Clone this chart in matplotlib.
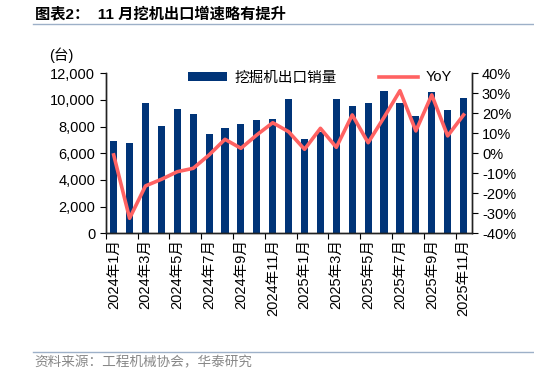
import numpy as np
import matplotlib.pyplot as plt
from matplotlib.lines import Line2D
from matplotlib.patches import Patch

plt.rcParams['font.family'] = ['Liberation Sans', 'Noto Sans CJK SC']

months = [f"{y}年{m}月" for y in (2024, 2025) for m in range(1, 13)][:23]

# excavator exports (units)
exports = [6925, 6750, 9775, 8025, 9300, 8950, 7450, 7925, 8200, 8500, 8575, 10050,
           7075, 7625, 10050, 9575, 9800, 10650, 9800, 8825, 10600, 9250, 10175]
# year-on-year growth (%)
yoy = [-0.8, -32.5, -16.3, -13.0, -9.2, -7.5, -0.8, 7.0, 2.5, 9.2, 15.3, 10.8,
       2.0, 12.5, 3.0, 19.2, 5.3, 18.0, 31.3, 11.2, 29.2, 8.7, 19.2]

bar_color = '#003478'
line_color = '#FF6262'

fig = plt.figure(figsize=(5.34, 3.76), dpi=100)
ax = fig.add_axes([0.198, 0.3795, 0.685, 0.4255])
ax2 = ax.twinx()

x = np.arange(len(months))
ax.bar(x, exports, width=0.45, color=bar_color, zorder=2)
ax2.plot(x, yoy, color=line_color, linewidth=2.6, zorder=3)

ax.set_xlim(-0.5, len(months) - 0.5)
ax.set_ylim(0, 12000)
ax.set_yticks(np.arange(0, 12001, 2000))
ax.set_yticklabels([f"{v:,}" for v in range(0, 12001, 2000)], fontsize=10.5)
ax2.set_ylim(-40, 40)
ax2.set_yticks(np.arange(-40, 41, 10))
ax2.set_yticklabels([f"{v}%" for v in range(-40, 41, 10)], fontsize=10.5)

# tick marks at category edges, labels under every other month
ax.set_xticks(np.arange(-0.5, len(months), 2))
ax.set_xticklabels([])
ax.set_xticks(x[::2], minor=True)
ax.set_xticklabels(months[::2], minor=True, rotation=90, fontsize=10.5)
ax.tick_params(axis='x', which='minor', length=0, pad=4)
ax.tick_params(axis='x', which='major', length=4, direction='out')
ax.tick_params(axis='y', length=4, direction='out')
ax2.tick_params(axis='y', length=4, direction='out')

for a in (ax, ax2):
    a.spines['top'].set_visible(False)
    for s in ('left', 'right', 'bottom'):
        a.spines[s].set_color('#222222')
        a.spines[s].set_linewidth(1)

handles = [Patch(facecolor=bar_color, label='挖掘机出口销量'),
           Line2D([0], [0], color=line_color, linewidth=2.6, label='YoY')]
ax.legend(handles=handles, loc='upper center', bbox_to_anchor=(0.585, 1.1), ncol=2,
          frameon=False, fontsize=10.5, handlelength=2.7, handleheight=0.6,
          columnspacing=2.9, handletextpad=0.5)

fig.text(0.092, 0.84, '(台)', fontsize=10.5)

# header and footer
fig.text(0.065, 0.962, '图表2：  11 月挖机出口增速略有提升', fontsize=11,
         fontweight='bold', va='center')
fig.add_artist(Line2D([0.062, 1.0], [0.937, 0.937], color='#9DB0C8', linewidth=1))
fig.add_artist(Line2D([0.062, 1.0], [0.064, 0.064], color='#9DB0C8', linewidth=1))
fig.text(0.065, 0.035, '资料来源：工程机械协会，华泰研究', fontsize=9.8,
         color='#888888', va='center')

fig.savefig('out.png', dpi=100)
